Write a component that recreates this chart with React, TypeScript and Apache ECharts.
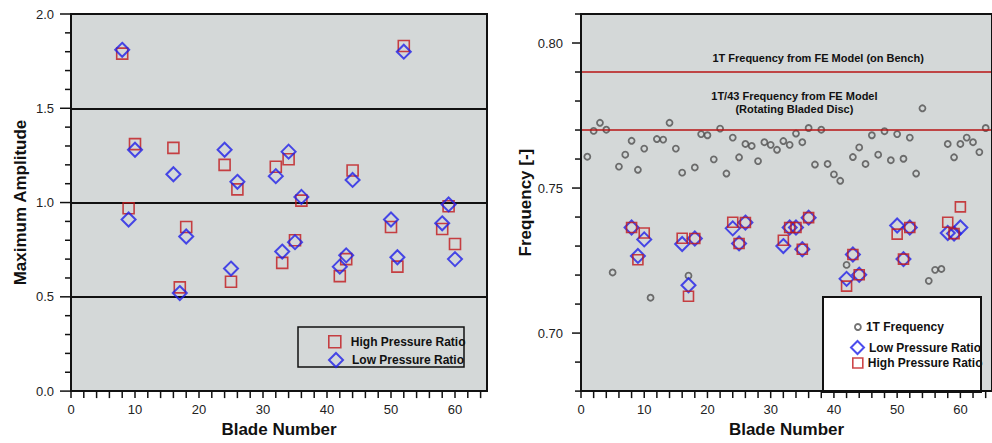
import React, { useEffect, useRef } from "react";
import * as echarts from "echarts";

// ---- Data ----
const testBlades = [8, 9, 10, 16, 17, 18, 24, 25, 26, 32, 33, 34, 35, 36, 42, 43, 44, 50, 51, 52, 58, 59, 60];
const ampHigh = [1.79, 0.97, 1.31, 1.29, 0.55, 0.87, 1.2, 0.58, 1.07, 1.19, 0.68, 1.23, 0.8, 1.01, 0.61, 0.7, 1.17, 0.87, 0.66, 1.83, 0.86, 0.98, 0.78];
const ampLow = [1.81, 0.91, 1.28, 1.15, 0.52, 0.82, 1.28, 0.65, 1.11, 1.14, 0.74, 1.27, 0.79, 1.03, 0.66, 0.72, 1.12, 0.91, 0.71, 1.8, 0.89, 0.99, 0.7];

const freqHigh = [0.7364, 0.7253, 0.7345, 0.7327, 0.7127, 0.7326, 0.7382, 0.7309, 0.7381, 0.732, 0.7364, 0.7364, 0.7289, 0.7398, 0.7162, 0.7271, 0.7201, 0.7341, 0.7255, 0.7364, 0.7382, 0.7343, 0.7435];
const freqLow = [0.7364, 0.7266, 0.7323, 0.7307, 0.7165, 0.7326, 0.7361, 0.7309, 0.7381, 0.73, 0.7364, 0.7364, 0.7289, 0.7398, 0.7187, 0.7271, 0.7201, 0.7371, 0.7255, 0.7364, 0.7345, 0.7343, 0.7364];

const allBlades = [
  1, 2, 3, 4, 5, 6, 7, 8, 9, 10, 11, 12, 13, 14, 15, 16, 17, 18, 19, 20, 21, 22, 23, 24, 25, 26, 27, 28, 29, 30, 31, 32,
  33, 34, 35, 36, 37, 38, 39, 40, 41, 42, 43, 44, 45, 46, 47, 48, 49, 50, 51, 52, 53, 54, 55, 56, 57, 58, 59, 60, 61, 62, 63, 64,
];
const freq1T = [
  0.7608, 0.7697, 0.7725, 0.7701, 0.7209, 0.7574, 0.7615, 0.7663, 0.7563, 0.7636,
  0.7122, 0.7669, 0.7667, 0.7725, 0.7636, 0.7553, 0.7198, 0.7571, 0.7686, 0.7682,
  0.7599, 0.7705, 0.755, 0.7674, 0.7606, 0.7652, 0.7645, 0.7593, 0.7658, 0.7649,
  0.7632, 0.7662, 0.7649, 0.7688, 0.7658, 0.7707, 0.7581, 0.7701, 0.7583, 0.7547,
  0.7525, 0.7235, 0.7607, 0.764, 0.7583, 0.7682, 0.7615, 0.7696, 0.7596, 0.7686,
  0.7601, 0.7674, 0.755, 0.7775, 0.718, 0.7218, 0.7221, 0.7652, 0.7606, 0.7652,
  0.7674, 0.7658, 0.7624, 0.7707,
];

const feBench = 0.7917;
const feRotating = 0.7741;
const feBenchLabel = "1T Frequency from FE Model (on Bench)";
const feRotatingLabel = "1T/43 Frequency from FE Model\n(Rotating Bladed Disc)";

const seriesHigh = "High Pressure Ratio";
const seriesLow = "Low Pressure Ratio";
const series1T = "1T Frequency";

// tick positions
const xTickValues = [0, 2, 4, 6, 8, 10, 12, 14, 16, 18, 20, 22, 24, 26, 28, 30, 32, 34, 36, 38, 40, 42, 44, 46, 48, 50, 52, 54, 56, 58, 60, 62, 64];
const ampMajorTicks = [0, 0.5, 1, 1.5, 2];
const ampMinorTicks = [0.1, 0.2, 0.3, 0.4, 0.6, 0.7, 0.8, 0.9, 1.1, 1.2, 1.3, 1.4, 1.6, 1.7, 1.8, 1.9];
const freqMajorTicks = [0.7, 0.75, 0.8];
const freqMinorTicks = [0.68, 0.69, 0.71, 0.72, 0.73, 0.74, 0.76, 0.77, 0.78, 0.79, 0.81];

// ---- Style ----
const FONT = "Liberation Sans, Arial, Helvetica, sans-serif";
const BG = "#d4d8d8";
const RED = "#c0181c";
const BLUE = "#2020e8";
const INK = "#111111";
const LINE_RED = "#b81414";

const zip = (xs: number[], ys: number[]) => xs.map((x, i) => [x, ys[i]]);

const nameStyle = { fontFamily: FONT, fontWeight: "bold", fontSize: 17, color: INK };
const tickLabelStyle = { fontFamily: FONT, fontSize: 13, color: "#222" };

function xAxis(gridIndex: number) {
  return {
    type: "value", gridIndex, min: 0, max: 65, interval: 10,
    name: "Blade Number", nameLocation: "middle", nameGap: 25, nameTextStyle: nameStyle,
    axisLine: { show: true, onZero: false, lineStyle: { color: INK, width: 2 } },
    axisTick: { show: false },
    axisLabel: { ...tickLabelStyle, margin: 12, showMaxLabel: false },
    splitLine: { show: false },
  };
}

const legendText = { fontFamily: FONT, fontWeight: "bold", fontSize: 12, color: INK };

const boxes = [
  { type: "rect", z: 3, shape: { x: 298, y: 327, width: 166, height: 40 }, style: { fill: "none", stroke: INK, lineWidth: 1.5 } },
  { type: "rect", z: 3, shape: { x: 823, y: 297, width: 158, height: 95 }, style: { fill: "#ffffff", stroke: INK, lineWidth: 2 } },
];

export default function App() {
  const ref = useRef<HTMLDivElement>(null);
  useEffect(() => {
    if (!ref.current) return;
    const chart = echarts.init(ref.current, undefined, { renderer: "svg" });
    const option: any = {
      animation: false,
      backgroundColor: "#ffffff",
      grid: [
        { left: 71, top: 14, width: 416, height: 381, show: true, backgroundColor: BG, borderColor: INK, borderWidth: 2 },
        { left: 581, top: 14, width: 416, height: 381, show: true, backgroundColor: BG, borderColor: INK, borderWidth: 2 },
      ],
      xAxis: [xAxis(0), xAxis(1)],
      yAxis: [
        {
          type: "value", gridIndex: 0, min: 0, max: 2, interval: 0.5,
          name: "Maximum Amplitude", nameLocation: "middle", nameGap: 42, nameTextStyle: nameStyle,
          axisLine: { show: true, lineStyle: { color: INK, width: 2 } },
          axisTick: { show: false },
          axisLabel: { ...tickLabelStyle, margin: 17, formatter: (v: number) => v.toFixed(1) },
          splitLine: { show: true, lineStyle: { color: INK, width: 2 } },
        },
        {
          type: "value", gridIndex: 1, min: 0.68, max: 0.81, interval: 0.01,
          name: "Frequency [-]", nameLocation: "middle", nameGap: 47, nameTextStyle: nameStyle,
          axisLine: { show: true, lineStyle: { color: INK, width: 2 } },
          axisTick: { show: false },
          axisLabel: {
            ...tickLabelStyle, margin: 18,
            formatter: (v: number) => (Math.round(v * 100) % 5 === 0 ? v.toFixed(2) : ""),
          },
          splitLine: { show: false },
        },
      ],
      legend: [
        {
          data: [seriesHigh], left: 328, top: 335, padding: 0, itemWidth: 12, itemHeight: 12, selectedMode: false,
          icon: "rect", itemStyle: { color: "transparent", borderColor: RED, borderWidth: 1.6 },
          textStyle: { ...legendText, padding: [0, 0, 0, 5] },
        },
        {
          data: [seriesLow], left: 328, top: 352, padding: 0, itemWidth: 14, itemHeight: 14, selectedMode: false,
          icon: "diamond", itemStyle: { color: "transparent", borderColor: BLUE, borderWidth: 2 },
          textStyle: { ...legendText, padding: [0, 0, 0, 4] },
        },
        {
          data: [series1T], left: 854, top: 321, padding: 0, itemWidth: 6, itemHeight: 6, selectedMode: false,
          icon: "circle", itemStyle: { color: "transparent", borderColor: "#505050", borderWidth: 1.8 },
          textStyle: { ...legendText },
        },
        {
          data: [seriesLow], left: 850, top: 340, padding: 0, itemWidth: 13, itemHeight: 13, selectedMode: false,
          icon: "diamond", itemStyle: { color: "transparent", borderColor: BLUE, borderWidth: 2 },
          textStyle: { ...legendText },
        },
        {
          data: [seriesHigh], left: 852, top: 357, padding: 0, itemWidth: 10, itemHeight: 10, selectedMode: false,
          icon: "rect", itemStyle: { color: "transparent", borderColor: RED, borderWidth: 1.6 },
          textStyle: { ...legendText },
        },
      ],
      graphic: { elements: boxes },
      series: [
        {
          name: seriesHigh, type: "scatter", xAxisIndex: 0, yAxisIndex: 0, symbol: "rect", symbolSize: 11,
          itemStyle: { color: "transparent", borderColor: RED, borderWidth: 1.6 },
          data: zip(testBlades, ampHigh),
        },
        {
          name: seriesLow, type: "scatter", xAxisIndex: 0, yAxisIndex: 0, symbol: "diamond", symbolSize: 14,
          itemStyle: { color: "transparent", borderColor: BLUE, borderWidth: 2 },
          data: zip(testBlades, ampLow),
        },
        {
          name: series1T, type: "scatter", xAxisIndex: 1, yAxisIndex: 1, symbol: "circle", symbolSize: 6,
          itemStyle: { color: "transparent", borderColor: "#505050", borderWidth: 1.8 },
          data: zip(allBlades, freq1T),
          markLine: {
            silent: true,
            symbol: ["none", "none"],
            lineStyle: { color: LINE_RED, width: 1.5, type: "solid" },
            label: { show: false },
            data: [
              { yAxis: feBench },
              { yAxis: feRotating },
              [
                {
                  coord: [10, feBench],
                  lineStyle: { color: "transparent", width: 0 },
                  label: { show: true, position: "insideMiddleTop", distance: 4, formatter: feBenchLabel, fontFamily: FONT, fontWeight: "bold", fontSize: 11, color: INK },
                },
                { coord: [65, feBench] },
              ],
              [
                {
                  coord: [2.5, feRotating],
                  lineStyle: { color: "transparent", width: 0 },
                  label: { show: true, position: "insideMiddleTop", distance: 3, formatter: feRotatingLabel, align: "center", lineHeight: 13, fontFamily: FONT, fontWeight: "bold", fontSize: 11, color: INK },
                },
                { coord: [65, feRotating] },
              ],
            ],
          },
        },
        {
          name: seriesLow, type: "scatter", xAxisIndex: 1, yAxisIndex: 1, symbol: "diamond", symbolSize: 14,
          itemStyle: { color: "transparent", borderColor: BLUE, borderWidth: 2 },
          data: zip(testBlades, freqLow),
        },
        {
          name: seriesHigh, type: "scatter", xAxisIndex: 1, yAxisIndex: 1, symbol: "rect", symbolSize: 10,
          itemStyle: { color: "transparent", borderColor: RED, borderWidth: 1.6 },
          data: zip(testBlades, freqHigh),
        },
      ],
    };
    chart.setOption(option);

    // Axis frame and ticks, placed through the chart's own axis scales.
    try {
      const els: any[] = [...boxes];
      const line = (x1: number, y1: number, x2: number, y2: number, w: number) => ({
        type: "line", z: 10, silent: true,
        shape: { x1, y1, x2, y2 },
        style: { stroke: INK, lineWidth: w },
      });
      const grids = [
        { idx: 0, yMin: 0, yMax: 2 },
        { idx: 1, yMin: 0.68, yMax: 0.81 },
      ];
      for (const g of grids) {
        const finder = { xAxisIndex: g.idx, yAxisIndex: g.idx };
        const tl = chart.convertToPixel(finder as any, [0, g.yMax]) as number[];
        const br = chart.convertToPixel(finder as any, [65, g.yMin]) as number[];
        if (!tl || !br) continue;
        // frame
        els.push(line(tl[0], tl[1], br[0], tl[1], 2));
        els.push(line(br[0], tl[1], br[0], br[1], 2));
        els.push(line(tl[0], br[1], br[0], br[1], 2));
        els.push(line(tl[0], tl[1], tl[0], br[1], 2));
        // x ticks
        for (const v of xTickValues) {
          const p = chart.convertToPixel(finder as any, [v, g.yMin]) as number[];
          els.push(line(p[0], br[1], p[0], br[1] + 7, 1.5));
        }
        // y ticks
        const majors = g.idx === 0 ? ampMajorTicks : freqMajorTicks;
        const minors = g.idx === 0 ? ampMinorTicks : freqMinorTicks;
        const majLen = g.idx === 0 ? 11 : 9;
        const minLen = g.idx === 0 ? 6 : 6;
        for (const v of majors) {
          const p = chart.convertToPixel(finder as any, [0, v]) as number[];
          els.push(line(tl[0] - majLen, p[1], tl[0], p[1], 1.5));
        }
        for (const v of minors) {
          const p = chart.convertToPixel(finder as any, [0, v]) as number[];
          els.push(line(tl[0] - minLen, p[1], tl[0], p[1], 1.5));
        }
      }
      chart.setOption({ graphic: { elements: els } });
    } catch (e) {
      // keep the chart as is
    }
    return () => chart.dispose();
  }, []);
  return (
    <div
      ref={ref}
      style={{ position: "fixed", left: 0, top: 0, width: 992, height: 443, background: "#fff" }}
    />
  );
}
